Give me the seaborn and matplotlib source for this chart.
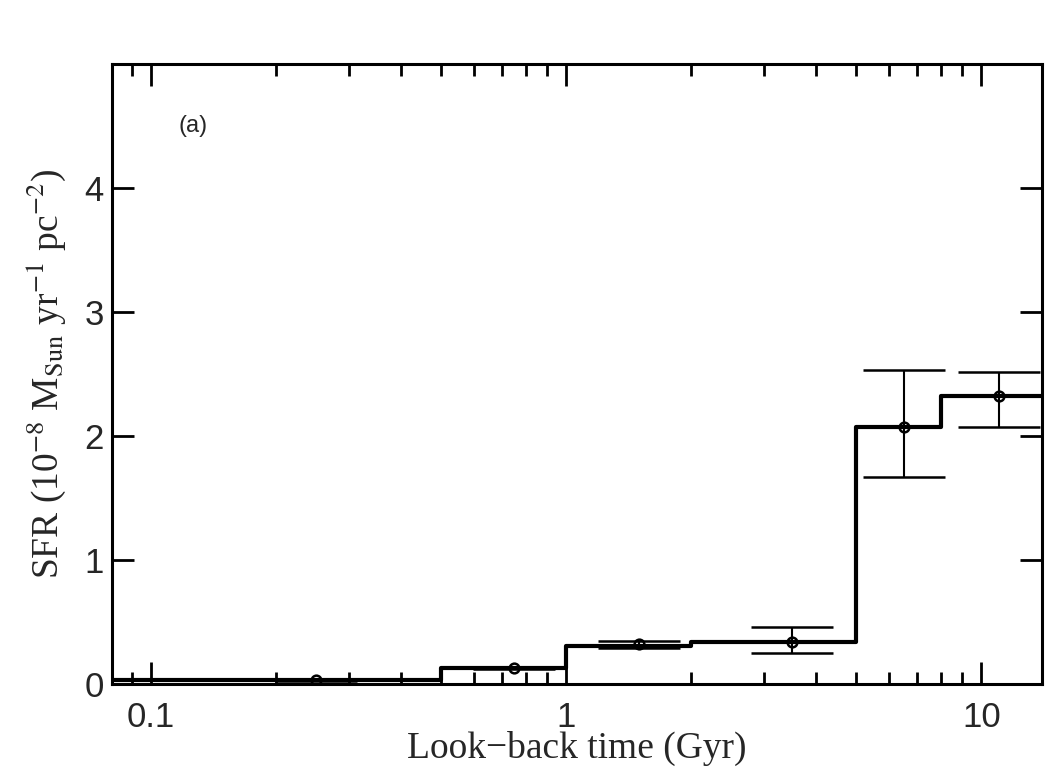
import matplotlib
matplotlib.use("Agg")
import matplotlib.pyplot as plt
import matplotlib.ticker as mticker
import seaborn as sns
import numpy as np
import pandas as pd

# bin edges (Gyr) and SFR step values
bin_edges = [0.05, 0.5, 1.0, 2.0, 5.0, 8.0, 14.0]
bin_sfr = [0.03, 0.13, 0.31, 0.34, 2.07, 2.32]

# data points with asymmetric errors
pt_time = [0.25, 0.75, 1.5, 3.5, 6.5, 11.0]
pt_sfr = [0.03, 0.13, 0.32, 0.34, 2.07, 2.32]
pt_err_lo = [0.005, 0.01, 0.03, 0.09, 0.40, 0.25]
pt_err_hi = [0.005, 0.01, 0.03, 0.12, 0.46, 0.20]

xtick_vals = [0.1, 1, 10]
ytick_vals = [0, 1, 2, 3, 4]

sns.set_style("ticks")
plt.rcParams['font.family'] = ['Liberation Sans', 'DejaVu Sans']
plt.rcParams['mathtext.fontset'] = 'stix'

fig = plt.figure(figsize=(10.5, 7.73), dpi=100)
ax = fig.add_axes([0.1067, 0.1151, 0.8857, 0.8021])

step_df = pd.DataFrame({"t": bin_edges, "sfr": bin_sfr + [bin_sfr[-1]]})
sns.lineplot(data=step_df, x="t", y="sfr", drawstyle="steps-post",
             color="black", linewidth=3.0, ax=ax, estimator=None, sort=False)

ax.errorbar(pt_time, pt_sfr, yerr=[pt_err_lo, pt_err_hi], fmt="o",
            markersize=7, markerfacecolor="none", markeredgecolor="black",
            markeredgewidth=1.8, ecolor="black", elinewidth=1.5,
            capsize=29.5, capthick=1.5, zorder=3)

ax.set_xscale("log")
ax.set_xlim(0.0806, 14.0)
ax.set_ylim(0, 5.0)
ax.set_xticks(xtick_vals)
ax.xaxis.set_major_formatter(mticker.FuncFormatter(lambda v, p: "%g" % v))
ax.xaxis.set_minor_locator(mticker.LogLocator(base=10, subs=np.arange(2, 10)))
ax.xaxis.set_minor_formatter(mticker.NullFormatter())
ax.set_yticks(ytick_vals)

for s in ax.spines.values():
    s.set_visible(True)
    s.set_linewidth(2.2)
    s.set_color("black")

ax.tick_params(which="both", direction="in", top=True, right=True,
               width=2, color="black")
ax.tick_params(which="major", length=16, labelsize=25)
ax.tick_params(which="minor", length=8.5)
ax.tick_params(axis="x", which="major", pad=12)
ax.tick_params(axis="y", which="major", pad=6)
ax.tick_params(axis="y", which="minor", left=False, right=False)

ax.set_xlabel("Look\u2212back time (Gyr)", family=["Liberation Serif", "DejaVu Serif"],
              fontsize=27, labelpad=-2)
ax.set_ylabel(r"SFR (10$^{-8}$ M$_{\rm Sun}$ yr$^{-1}$ pc$^{-2}$)",
              family=["Liberation Serif", "DejaVu Serif"], fontsize=27, labelpad=12)

ax.text(0.071, 0.9, "(a)", transform=ax.transAxes, fontsize=17,
        ha="left", va="center")

fig.savefig("out.png", dpi=100)
